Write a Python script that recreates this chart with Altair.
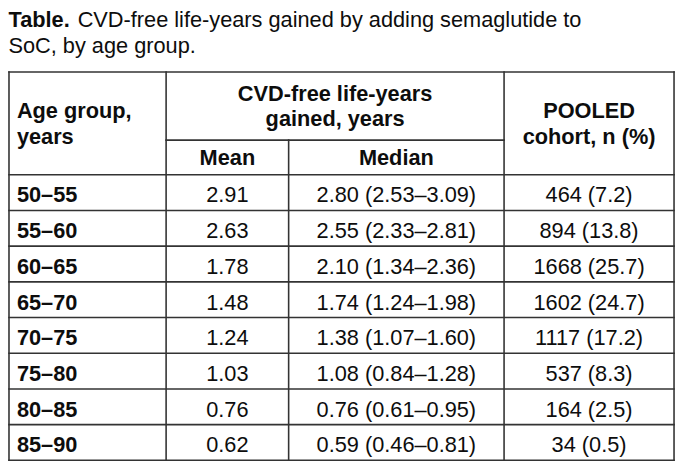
import altair as alt
import pandas as pd

# ---------------- data ----------------
title_bold = "Table."
title_rest = "CVD-free life-years gained by adding semaglutide to"
title_line2 = "SoC, by age group."

header_age = ["Age group,", "years"]
header_gain = ["CVD-free life-years", "gained, years"]
header_sub = ["Mean", "Median"]
header_pooled = ["POOLED", "cohort, n (%)"]

age_groups = ["50–55", "55–60", "60–65", "65–70", "70–75", "75–80", "80–85", "85–90"]
mean_gain = [2.91, 2.63, 1.78, 1.48, 1.24, 1.03, 0.76, 0.62]
median_gain = [2.80, 2.55, 2.10, 1.74, 1.38, 1.08, 0.76, 0.59]
median_low = [2.53, 2.33, 1.34, 1.24, 1.07, 0.84, 0.61, 0.46]
median_high = [3.09, 2.81, 2.36, 1.98, 1.60, 1.28, 0.95, 0.81]
pooled_n = [464, 894, 1668, 1602, 1117, 537, 164, 34]
pooled_pct = [7.2, 13.8, 25.7, 24.7, 17.2, 8.3, 2.5, 0.5]

# ---------------- layout (page pixel space) ----------------
COLS = [9, 168, 292, 510, 682]
TOP, HEAD_MID, HEAD_BOT = 70, 139, 174
ROW_H = (463 - HEAD_BOT) / len(age_groups)
FONT = "Liberation Sans"
FS = 22
TXT = "#0d0d0d"
LINE = "#333333"

xs = alt.Scale(domain=[8, 685], nice=False, zero=False)
ys = alt.Scale(domain=[8, 466], nice=False, zero=False, reverse=True)


def center(i):
    return (COLS[i] + COLS[i + 1]) / 2


# text tables
title_bold_df = pd.DataFrame({"x": [8.5], "y": [24], "text": [title_bold]})
title_norm_df = pd.DataFrame({"x": [78.5, 8.5], "y": [24, 51], "text": [title_rest, title_line2]})

head_left_df = pd.DataFrame({"x": [17, 17], "y": [116.5, 142.5], "text": header_age})
head_center_df = pd.DataFrame({
    "x": [(COLS[1] + COLS[3]) / 2] * 2 + [center(1), center(2)] + [center(3)] * 2,
    "y": [99, 125, 164.5, 164.5, 116.5, 142.5],
    "text": header_gain + header_sub + header_pooled,
})

rows_y = [HEAD_BOT + ROW_H * i + 28 for i in range(len(age_groups))]
age_df = pd.DataFrame({"x": [17] * len(age_groups), "y": rows_y, "text": age_groups})

body_x, body_y, body_t = [], [], []
for i in range(len(age_groups)):
    vals = [
        f"{mean_gain[i]:.2f}",
        f"{median_gain[i]:.2f} ({median_low[i]:.2f}–{median_high[i]:.2f})",
        f"{pooled_n[i]} ({pooled_pct[i]:.1f})",
    ]
    for c, v in enumerate(vals):
        body_x.append(center(c + 1))
        body_y.append(rows_y[i])
        body_t.append(v)
body_df = pd.DataFrame({"x": body_x, "y": body_y, "text": body_t})

# grid lines
lines = []
lines.append((COLS[0], COLS[-1], TOP, TOP))
lines.append((COLS[1], COLS[3], HEAD_MID, HEAD_MID))
for i in range(len(age_groups) + 1):
    yy = HEAD_BOT + ROW_H * i
    lines.append((COLS[0], COLS[-1], yy, yy))
for c in [0, 1, 3, 4]:
    lines.append((COLS[c], COLS[c], TOP, 463))
lines.append((COLS[2], COLS[2], HEAD_MID, 463))
lines_df = pd.DataFrame(lines, columns=["x", "x2", "y", "y2"])


def text_layer(df, align, weight):
    return alt.Chart(df).mark_text(
        align=align, baseline="alphabetic", font=FONT, fontSize=FS,
        fontWeight=weight, color=TXT
    ).encode(
        x=alt.X("x:Q", scale=xs, axis=None),
        y=alt.Y("y:Q", scale=ys, axis=None),
        text="text:N",
    )


rules = alt.Chart(lines_df).mark_rule(color=LINE, strokeWidth=1.6, strokeCap="square").encode(
    x=alt.X("x:Q", scale=xs, axis=None),
    x2="x2:Q",
    y=alt.Y("y:Q", scale=ys, axis=None),
    y2="y2:Q",
)

chart = alt.layer(
    rules,
    text_layer(title_bold_df, "left", "bold"),
    text_layer(title_norm_df, "left", "normal"),
    text_layer(head_left_df, "left", "bold"),
    text_layer(head_center_df, "center", "bold"),
    text_layer(age_df, "left", "bold"),
    text_layer(body_df, "center", "normal"),
).properties(
    width=677, height=458, padding=0,
    autosize=alt.AutoSizeParams(type="none"),
    background="white",
).configure_view(stroke=None)

chart.save("out.html", embed_options={"renderer": "svg", "actions": False})
